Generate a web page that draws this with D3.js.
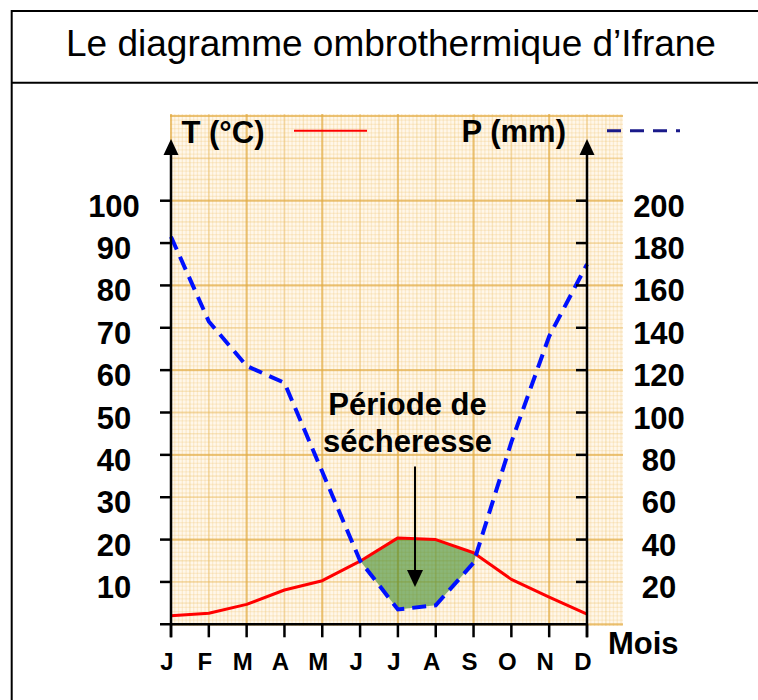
<!DOCTYPE html>
<html>
<head>
<meta charset="utf-8">
<script src="https://cdn.jsdelivr.net/npm/d3@7"></script>
<style>
  html, body { margin: 0; padding: 0; background: #ffffff; }
  svg { display: block; }
  text { font-family: "Liberation Sans", Arial, Helvetica, sans-serif; }
</style>
</head>
<body>
<svg id="chart" width="758" height="700"></svg>
<script>
// ---- Data ----
const monthLabels = ["J", "F", "M", "A", "M", "J", "J", "A", "S", "O", "N", "D"];
const temperature = [2.0, 2.6, 4.7, 8.1, 10.3, 14.9, 20.4, 20.0, 16.9, 10.6, 6.4, 2.4];
const precipitation = [183, 143, 122, 114, 72, 30, 7, 9, 29, 86, 136, 170];
const tempTicks = [10, 20, 30, 40, 50, 60, 70, 80, 90, 100];
const precTicks = [20, 40, 60, 80, 100, 120, 140, 160, 180, 200];
const titleText = "Le diagramme ombrothermique d’Ifrane";
const tempLegend = "T (°C)";
const precLegend = "P (mm)";
const xLabel = "Mois";
const droughtLines = ["Période de", "sécheresse"];

// ---- Setup ----
const svg = d3.select("#chart");
const W = 758, H = 700;

const x = d3.scaleLinear().domain([0, 11]).range([171, 587]);
const yT = d3.scaleLinear().domain([0, 100]).range([624.3, 200.7]);
const yP = d3.scaleLinear().domain([0, 200]).range([624.3, 200.7]);

// ---- Outer frame ----
const frame = svg.append("g").attr("stroke", "#000").attr("stroke-width", 2).attr("fill", "none");
frame.append("line").attr("x1", 11.7).attr("x2", W + 20).attr("y1", 11).attr("y2", 11);
frame.append("line").attr("x1", 11.7).attr("x2", W + 20).attr("y1", 82.7).attr("y2", 82.7);
frame.append("line").attr("x1", 11.7).attr("x2", 11.7).attr("y1", 10).attr("y2", H + 20);

svg.append("text")
  .attr("x", 391).attr("y", 55.5)
  .attr("text-anchor", "middle")
  .attr("font-size", 37)
  .attr("fill", "#000")
  .text(titleText);

// ---- Graph paper background ----
const paper = { x0: 170, x1: 623, y0: 114, y1: 626 };
svg.append("defs").append("clipPath").attr("id", "paperClip")
  .append("rect").attr("x", paper.x0).attr("y", paper.y0)
  .attr("width", paper.x1 - paper.x0).attr("height", paper.y1 - paper.y0);

svg.append("rect")
  .attr("x", paper.x0).attr("y", paper.y0)
  .attr("width", paper.x1 - paper.x0).attr("height", paper.y1 - paper.y0)
  .attr("fill", "#fff7ea");

const grid = svg.append("g").attr("clip-path", "url(#paperClip)");
function gridLines(step, color, op, sw) {
  const g = grid.append("g").attr("stroke", color).attr("stroke-opacity", op).attr("stroke-width", sw);
  const mMin = x.invert(paper.x0), mMax = x.invert(paper.x1);
  for (let k = Math.ceil(mMin / step); k * step <= mMax + 1e-9; k++) {
    const px = x(k * step);
    g.append("line").attr("x1", px).attr("x2", px).attr("y1", paper.y0).attr("y2", paper.y1);
  }
  const tStep = step * 10;
  const tMin = yT.invert(paper.y1), tMax = yT.invert(paper.y0);
  for (let k = Math.ceil(tMin / tStep); k * tStep <= tMax + 1e-9; k++) {
    const py = yT(k * tStep);
    g.append("line").attr("x1", paper.x0).attr("x2", paper.x1).attr("y1", py).attr("y2", py);
  }
}
gridLines(0.1, "#f1ca7c", 0.28, 1.3);
gridLines(0.5, "#eec068", 0.15, 1.5);
gridLines(1, "#e8b658", 0.3, 1.8);
gridLines(2, "#e2aa40", 0.5, 2.2);

// ---- Drought area (P < 2T) ----
const dry = temperature.map((t, i) => 2 * t - precipitation[i]);
const polys = [];
let upper = null, lower = null;
function crossing(i) {
  const f = dry[i - 1] / (dry[i - 1] - dry[i]);
  const tv = temperature[i - 1] + f * (temperature[i] - temperature[i - 1]);
  return [i - 1 + f, tv];
}
for (let i = 0; i < 12; i++) {
  if (dry[i] > 0) {
    if (!upper) {
      upper = []; lower = [];
      if (i > 0) { const c = crossing(i); upper.push(c); lower.push(c); }
    }
    upper.push([i, temperature[i]]);
    lower.push([i, precipitation[i] / 2]);
  } else if (upper) {
    const c = crossing(i); upper.push(c); lower.push(c);
    polys.push(upper.concat(lower.reverse()));
    upper = null; lower = null;
  }
}
if (upper) polys.push(upper.concat(lower.reverse()));

svg.append("g").selectAll("path").data(polys).join("path")
  .attr("d", p => d3.line().x(q => x(q[0])).y(q => yT(q[1]))(p) + "Z")
  .attr("fill", "#3d8a2a")
  .attr("fill-opacity", 0.6)
  .attr("stroke", "none");

// ---- Lines ----
svg.append("path")
  .datum(temperature)
  .attr("d", d3.line().x((v, i) => x(i)).y(v => yT(v)))
  .attr("fill", "none")
  .attr("stroke", "#ff0000")
  .attr("stroke-width", 3)
  .attr("stroke-linejoin", "round");

svg.append("path")
  .datum(precipitation)
  .attr("d", d3.line().x((v, i) => x(i)).y(v => yP(v)))
  .attr("fill", "none")
  .attr("stroke", "#0010ff")
  .attr("stroke-width", 4)
  .attr("stroke-dasharray", "14,8");

// ---- Axes ----
const axisTop = 139;
const axes = svg.append("g").attr("stroke", "#000").attr("stroke-width", 2.5);
axes.append("line").attr("x1", x(0)).attr("x2", x(0)).attr("y1", yT(0) + 13).attr("y2", axisTop + 12);
axes.append("line").attr("x1", x(11)).attr("x2", x(11)).attr("y1", yT(0) + 13).attr("y2", axisTop + 12);
axes.append("line").attr("x1", x(0) - 11).attr("x2", x(11)).attr("y1", yT(0)).attr("y2", yT(0));

svg.append("g").selectAll("path").data([x(0), x(11)]).join("path")
  .attr("d", px => `M${px},${axisTop}L${px - 7.5},${axisTop + 16}L${px + 7.5},${axisTop + 16}Z`)
  .attr("fill", "#000");

axes.append("g").selectAll("line").data(tempTicks).join("line")
  .attr("x1", x(0) - 11).attr("x2", x(0))
  .attr("y1", v => yT(v)).attr("y2", v => yT(v));
axes.append("g").selectAll("line").data(precTicks).join("line")
  .attr("x1", x(11) - 11).attr("x2", x(11))
  .attr("y1", v => yP(v)).attr("y2", v => yP(v));
axes.append("g").selectAll("line").data(monthLabels).join("line")
  .attr("x1", (m, i) => x(i)).attr("x2", (m, i) => x(i))
  .attr("y1", yT(0)).attr("y2", yT(0) + 13);

svg.append("g").selectAll("text").data(tempTicks).join("text")
  .attr("x", 114).attr("y", v => yT(v) + 16)
  .attr("text-anchor", "middle")
  .attr("font-size", 31).attr("font-weight", "bold")
  .text(v => v);

svg.append("g").selectAll("text").data(precTicks).join("text")
  .attr("x", 659).attr("y", v => yP(v) + 16)
  .attr("text-anchor", "middle")
  .attr("font-size", 31).attr("font-weight", "bold")
  .text(v => v);

svg.append("g").selectAll("text").data(monthLabels).join("text")
  .attr("x", (m, i) => x(i) - 4).attr("y", 670)
  .attr("text-anchor", "middle")
  .attr("font-size", 24).attr("font-weight", "bold")
  .text(m => m);

svg.append("text")
  .attr("x", 608).attr("y", 654)
  .attr("font-size", 31).attr("font-weight", "bold")
  .text(xLabel);

// ---- Legend ----
svg.append("text")
  .attr("x", 181.5).attr("y", 142.7)
  .attr("font-size", 31).attr("font-weight", "bold")
  .text(tempLegend);
svg.append("line")
  .attr("x1", 294).attr("x2", 367).attr("y1", 130.7).attr("y2", 130.7)
  .attr("stroke", "#ff0000").attr("stroke-width", 2);
svg.append("text")
  .attr("x", 461.5).attr("y", 141.5)
  .attr("font-size", 31).attr("font-weight", "bold")
  .text(precLegend);
svg.append("line")
  .attr("x1", 607).attr("x2", 680).attr("y1", 130.7).attr("y2", 130.7)
  .attr("stroke", "#1a1a8a").attr("stroke-width", 3)
  .attr("stroke-dasharray", "14,9");

// ---- Drought annotation ----
const ann = svg.append("g");
ann.selectAll("text").data(droughtLines).join("text")
  .attr("x", 407.5).attr("y", (s, i) => 415 + i * 36.7)
  .attr("text-anchor", "middle")
  .attr("font-size", 31).attr("font-weight", "bold")
  .text(s => s);
ann.append("line")
  .attr("x1", 415).attr("x2", 415).attr("y1", 466.5).attr("y2", 574)
  .attr("stroke", "#000").attr("stroke-width", 2);
ann.append("path")
  .attr("d", "M415,587L407,570L423,570Z")
  .attr("fill", "#000");
</script>
</body>
</html>
